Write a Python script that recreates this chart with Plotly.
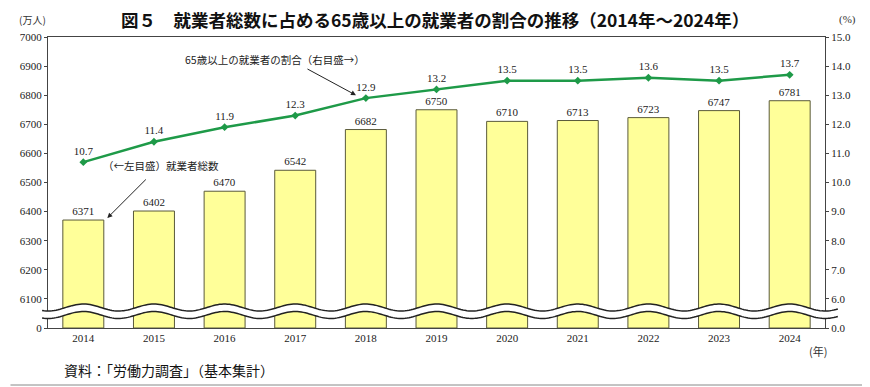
import numpy as np
import plotly.graph_objects as go

years = [2014, 2015, 2016, 2017, 2018, 2019, 2020, 2021, 2022, 2023, 2024]
year_labels = [str(y) for y in years]
workers_total = [6371, 6402, 6470, 6542, 6682, 6750, 6710, 6713, 6723, 6747, 6781]
share_65plus = [10.7, 11.4, 11.9, 12.3, 12.9, 13.2, 13.5, 13.5, 13.6, 13.5, 13.7]

left_ticks = [6000, 6100, 6200, 6300, 6400, 6500, 6600, 6700, 6800, 6900, 7000]
left_ticktext = ["0"] + [str(v) for v in left_ticks[1:]]
right_ticks = [5, 6, 7, 8, 9, 10, 11, 12, 13, 14, 15]
right_ticktext = ["0.0"] + [f"{v:.1f}" for v in right_ticks[1:]]

SERIF = "Liberation Serif, DejaVu Serif, Noto Sans CJK JP"
JP = "Noto Sans CJK JP"

fig = go.Figure()
fig.add_trace(go.Bar(
    x=years, y=[v - 6000 for v in workers_total], base=6000,
    marker=dict(color="#FFFF99", line=dict(color="#5a5a3a", width=1)),
    width=0.58,
    text=[str(v) for v in workers_total], textposition="outside",
    textfont=dict(family=SERIF, size=11, color="#222"),
    cliponaxis=False, yaxis="y", showlegend=False,
))
fig.add_trace(go.Scatter(
    x=years, y=share_65plus, yaxis="y2", mode="lines+markers+text",
    line=dict(color="#1e9a48", width=2.5),
    marker=dict(symbol="diamond", size=6, color="#1e9a48"),
    text=[f"{v:.1f}" for v in share_65plus], textposition="top center",
    textfont=dict(family=SERIF, size=11, color="#222"),
    cliponaxis=False, showlegend=False,
))

# axis break symbol (decoration), paper coordinates
xs = np.linspace(-6 / 787, 800 / 787, 400)
def wave(yc):
    return yc + 0.012 * np.cos(2 * np.pi * (xs * 11 - 0.5))
top = wave(0.0704)
bot = wave(0.0447)
fill_path = "M " + " L ".join(f"{x:.5f},{y:.5f}" for x, y in zip(xs, top)) + " L " + \
    " L ".join(f"{x:.5f},{y:.5f}" for x, y in zip(xs[::-1], bot[::-1])) + " Z"
fig.add_shape(type="path", path=fill_path, xref="paper", yref="paper",
              fillcolor="white", line=dict(width=0), layer="above")
for w in (top, bot):
    p = "M " + " L ".join(f"{x:.5f},{y:.5f}" for x, y in zip(xs, w))
    fig.add_shape(type="path", path=p, xref="paper", yref="paper",
                  line=dict(color="#222", width=1.5), layer="above")

def pa(text, x, y, size, family=JP, xanchor="center", color="#222"):
    return dict(text=text, x=x, y=y, xref="paper", yref="paper", showarrow=False,
                xanchor=xanchor, yanchor="middle", font=dict(family=family, size=size, color=color))

annos = [
    pa("<b>図５　就業者総数に占める65歳以上の就業者の割合の推移（2014年～2024年）</b>",
       0.498, (328 - 20) / 291, 17.5, color="#111"),
    pa("(万人)", (22 - 38) / 787, (328 - 19) / 291, 10, color="#333"),
    pa("(%)", (848 - 38) / 787, (328 - 19) / 291, 11, family=SERIF, color="#333"),
    pa("(年)", (818 - 38) / 787, (328 - 351) / 291, 11, color="#333"),
    pa("資料：「労働力調査」（基本集計）", (52 - 38) / 787, (328 - 370) / 291, 14,
       xanchor="left", color="#111"),
    dict(text="65歳以上の就業者の割合（右目盛→）", x=2016.71, y=14.21, xref="x", yref="y2",
         showarrow=False, font=dict(family=JP, size=10.5, color="#222")),
    dict(text="", x=2017.86, y=13.0, xref="x", yref="y2", ax=-50, ay=-27,
         showarrow=True, arrowhead=2, arrowsize=1, arrowwidth=1, arrowcolor="#222"),
    dict(text="（←左目盛）就業者総数", x=2015.10, y=6560, xref="x", yref="y",
         showarrow=False, font=dict(family=JP, size=10.5, color="#222")),
    dict(text="", x=2014.34, y=6378, xref="x", yref="y", ax=40, ay=-40,
         showarrow=True, arrowhead=2, arrowsize=1, arrowwidth=1, arrowcolor="#222"),
]

fig.update_layout(
    width=862, height=379,
    margin=dict(l=30, r=45, t=29, b=59),
    paper_bgcolor="white", plot_bgcolor="white",
    showlegend=False,
    annotations=annos,
    xaxis=dict(range=[2013.5, 2024.5], tickvals=years, ticktext=year_labels,
               showline=True, linecolor="#444", linewidth=1, mirror=True,
               showgrid=False, zeroline=False, ticks="",
               tickfont=dict(family=SERIF, size=11, color="#222")),
    yaxis=dict(range=[6000, 7000], tickvals=left_ticks, ticktext=left_ticktext,
               showline=True, linecolor="#444", linewidth=1, showgrid=False,
               zeroline=False, ticks="outside", ticklen=3, tickcolor="#444",
               tickfont=dict(family=SERIF, size=11, color="#222")),
    yaxis2=dict(range=[5, 15], tickvals=right_ticks, ticktext=right_ticktext,
                overlaying="y", side="right",
                showline=True, linecolor="#444", linewidth=1, showgrid=False,
                zeroline=False, ticks="outside", ticklen=3, tickcolor="#444",
                tickfont=dict(family=SERIF, size=11, color="#222")),
)
fig.add_shape(type="line", xref="paper", yref="paper", x0=-38/787, x1=832/787,
              y0=-57/291, y1=-57/291, line=dict(color="#888", width=1))

fig.write_html("out.html")
